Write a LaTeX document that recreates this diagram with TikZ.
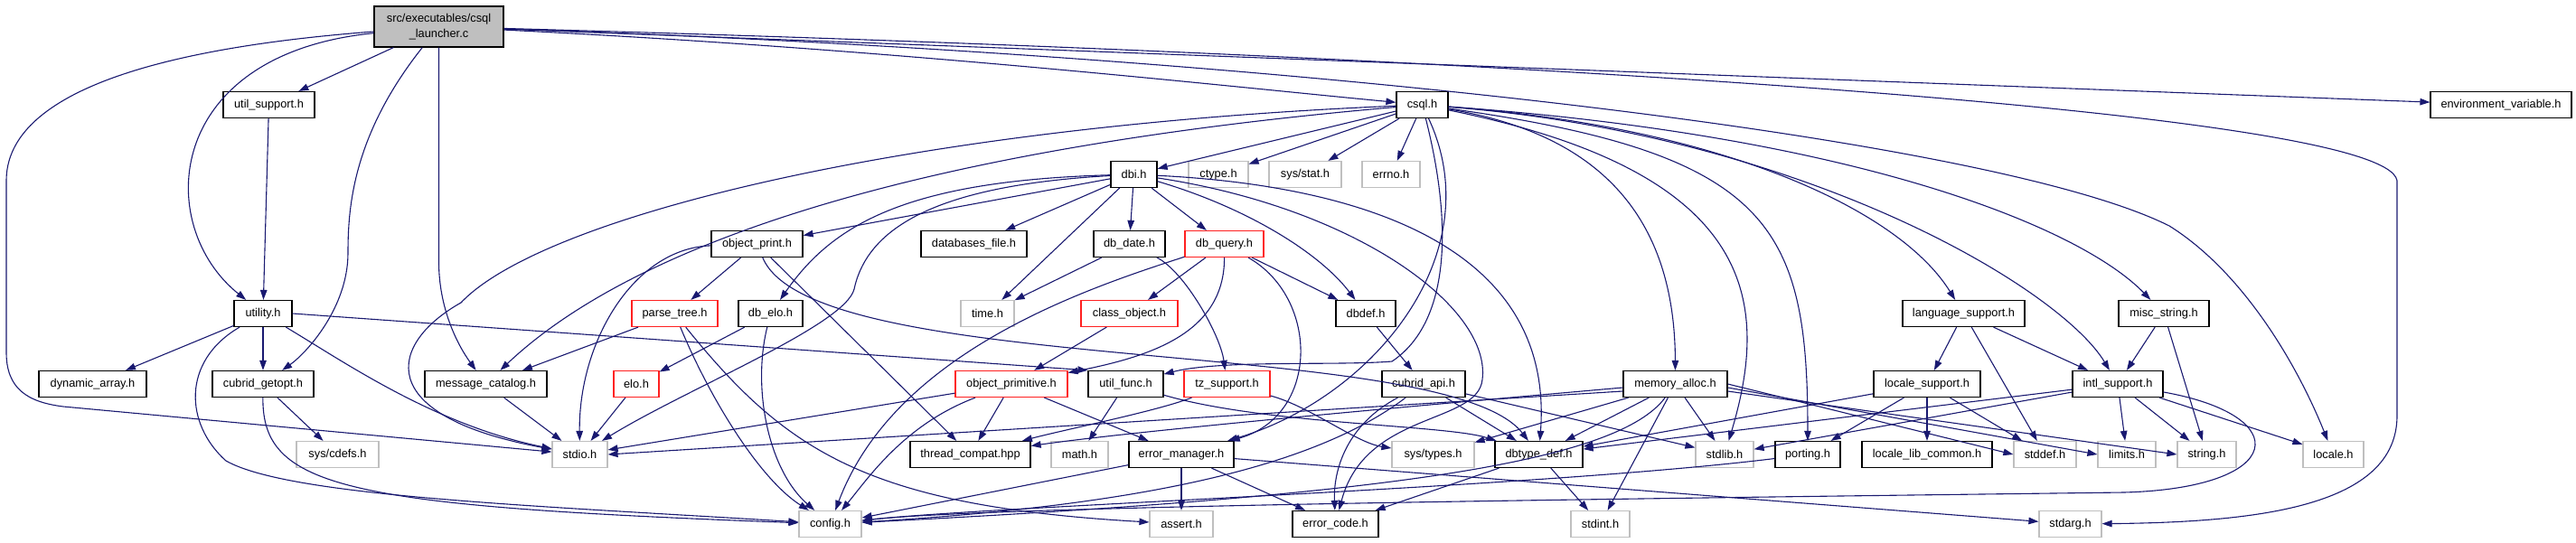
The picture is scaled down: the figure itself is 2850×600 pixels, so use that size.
\documentclass[tikz,border=0pt]{standalone}
\usepackage{fontspec}
\setmainfont{Liberation Sans}
\usepackage{tikz}
\usetikzlibrary{arrows.meta}
\definecolor{depblue}{HTML}{191970}
\definecolor{sysgray}{HTML}{BFBFBF}
\definecolor{truncred}{HTML}{FF2020}
\tikzset{
  hdr/.style={draw=black,line width=1.2pt,minimum height=29,inner sep=0pt,
              font=\fontsize{12.8}{15}\selectfont},
  syshdr/.style={hdr,draw=sysgray},
  cuthdr/.style={hdr,draw=truncred},
  srcfile/.style={hdr,fill=sysgray,minimum height=45,align=center,
                  font=\fontsize{12.8}{16.5}\selectfont},
  dep/.style={-{Triangle[length=11pt,width=7.5pt]},depblue,line width=1.1pt},
}

\begin{document}
\begin{tikzpicture}[x=1pt,y=-1pt]
  \useasboundingbox (0,0) rectangle (2850,600);

  %% ── Source file ──────────────────────────────────────────────────────────
  \node[srcfile,minimum width=143] (root) at (485.5,29.5) {src/executables/csql\\\_launcher.c};

  %% ── Rank 1 ───────────────────────────────────────────────────────────────
  \node[hdr,minimum width=101] (utilsup) at (297.5,116) {util\_support.h};
  \node[hdr,minimum width=57]  (csql)    at (1573.5,116) {csql.h};
  \node[hdr,minimum width=156] (envvar)  at (2767,116) {environment\_variable.h};

  %% ── Rank 2 ───────────────────────────────────────────────────────────────
  \node[hdr,minimum width=51]    (dbi)     at (1254.5,193) {dbi.h};
  \node[syshdr,minimum width=66] (ctype)   at (1348,193) {ctype.h};
  \node[syshdr,minimum width=80] (sysstat) at (1444,193) {sys/stat.h};
  \node[syshdr,minimum width=64] (errno)   at (1539,193) {errno.h};

  %% ── Rank 3 ───────────────────────────────────────────────────────────────
  \node[hdr,minimum width=101]   (objprint) at (837.5,270) {object\_print.h};
  \node[hdr,minimum width=117]   (dbfile)   at (1077.5,270) {databases\_file.h};
  \node[hdr,minimum width=79]    (dbdate)   at (1249.5,270) {db\_date.h};
  \node[cuthdr,minimum width=87] (dbquery)  at (1354.5,270) {db\_query.h};

  %% ── Rank 4 ───────────────────────────────────────────────────────────────
  \node[hdr,minimum width=64]     (utility)   at (291,347) {utility.h};
  \node[cuthdr,minimum width=95]  (parsetree) at (746.5,347) {parse\_tree.h};
  \node[hdr,minimum width=71]     (dbelo)     at (852.5,347) {db\_elo.h};
  \node[syshdr,minimum width=59]  (timeh)     at (1092.5,347) {time.h};
  \node[cuthdr,minimum width=107] (classobj)  at (1249.5,347) {class\_object.h};
  \node[hdr,minimum width=66]     (dbdef)     at (1511,347) {dbdef.h};
  \node[hdr,minimum width=135]    (langsup)   at (2172.5,347) {language\_support.h};
  \node[hdr,minimum width=100]    (miscstr)   at (2394,347) {misc\_string.h};

  %% ── Rank 5 ───────────────────────────────────────────────────────────────
  \node[hdr,minimum width=119]    (dynarr)   at (102.5,425) {dynamic\_array.h};
  \node[hdr,minimum width=112]    (getopt)   at (291,425) {cubrid\_getopt.h};
  \node[hdr,minimum width=135]    (msgcat)   at (537.5,425) {message\_catalog.h};
  \node[cuthdr,minimum width=50]  (elo)      at (704,425) {elo.h};
  \node[cuthdr,minimum width=124] (objprim)  at (1119,425) {object\_primitive.h};
  \node[hdr,minimum width=83]     (utilfunc) at (1245.5,425) {util\_func.h};
  \node[cuthdr,minimum width=95]  (tzsup)    at (1357.5,425) {tz\_support.h};
  \node[hdr,minimum width=92]     (cubapi)   at (1575,425) {cubrid\_api.h};
  \node[hdr,minimum width=115]    (memalloc) at (1853.5,425) {memory\_alloc.h};
  \node[hdr,minimum width=118]    (locsup)   at (2132,425) {locale\_support.h};
  \node[hdr,minimum width=100]    (intlsup)  at (2343,425) {intl\_support.h};

  %% ── Rank 6 ───────────────────────────────────────────────────────────────
  \node[syshdr,minimum width=91] (cdefs)    at (373.5,503) {sys/cdefs.h};
  \node[syshdr,minimum width=61] (stdio)    at (641.5,503) {stdio.h};
  \node[hdr,minimum width=133]   (threadc)  at (1073.5,503) {thread\_compat.hpp};
  \node[syshdr,minimum width=63] (mathh)    at (1194.5,503) {math.h};
  \node[hdr,minimum width=116]   (errmgr)   at (1307,503) {error\_manager.h};
  \node[syshdr,minimum width=91] (systypes) at (1585.5,503) {sys/types.h};
  \node[hdr,minimum width=97]    (dbtype)   at (1702.5,503) {dbtype\_def.h};
  \node[syshdr,minimum width=64] (stdlib)   at (1908,503) {stdlib.h};
  \node[hdr,minimum width=72]    (porting)  at (2000,503) {porting.h};
  \node[hdr,minimum width=144]   (loclib)   at (2132,503) {locale\_lib\_common.h};
  \node[syshdr,minimum width=69] (stddef)   at (2262.5,503) {stddef.h};
  \node[syshdr,minimum width=64] (limits)   at (2353,503) {limits.h};
  \node[syshdr,minimum width=65] (stringh)  at (2441.5,503) {string.h};
  \node[syshdr,minimum width=67] (localeh)  at (2581.5,503) {locale.h};

  %% ── Rank 7 ───────────────────────────────────────────────────────────────
  \node[syshdr,minimum width=69] (config)  at (918.5,580) {config.h};
  \node[syshdr,minimum width=70] (assert)  at (1307,580) {assert.h};
  \node[hdr,minimum width=95]    (errcode) at (1477.5,580) {error\_code.h};
  \node[syshdr,minimum width=65] (stdint)  at (1770.5,580) {stdint.h};
  \node[syshdr,minimum width=69] (stdarg)  at (2290.5,580) {stdarg.h};

  %% ── Includes of the source file ──────────────────────────────────────────
  \draw[dep] (root) .. controls (150,55) and (7,110) .. (7,200) -- (7,390)
             .. controls (7,430) and (30,445) .. (70,450) -- (stdio);
  \draw[dep] (root) .. controls (180,60) and (170,250) .. (utility);
  \draw[dep] (root) -- (utilsup);
  \draw[dep] (root) .. controls (390,150) and (385,230) .. (385,280)
             .. controls (385,340) and (340,390) .. (getopt);
  \draw[dep] (root.south) -- (485.5,290) .. controls (485.5,340) and (505,380) .. (msgcat);
  \draw[dep] (root) .. controls (1000,55) and (1350,95) .. (csql);
  \draw[dep] (root) -- (envvar);
  \draw[dep] (root) .. controls (1600,60) and (2640,120) .. (2652,200) -- (2652,460)
             .. controls (2652,560) and (2500,578) .. (stdarg);
  \draw[dep] (root) .. controls (1400,60) and (2200,150) .. (2400,250)
             .. controls (2480,300) and (2540,400) .. (localeh);

  %% ── utility / getopt ─────────────────────────────────────────────────────
  \draw[dep] (utilsup) -- (utility);
  \draw[dep] (utility) -- (dynarr);
  \draw[dep] (utility) -- (getopt);
  \draw[dep] (utility) .. controls (380,400) and (480,470) .. (stdio);
  \draw[dep] (utility) .. controls (200,400) and (205,470) .. (250,510)
             .. controls (320,550) and (600,560) .. (config);
  \draw[dep] (utility.east) -- (utilfunc.north west);
  \draw[dep] (getopt) -- (cdefs);
  \draw[dep] (getopt) .. controls (290,540) and (380,560) .. (config);

  %% ── csql.h ───────────────────────────────────────────────────────────────
  \draw[dep] (csql) -- (dbi);
  \draw[dep] (csql) -- (ctype);
  \draw[dep] (csql) -- (sysstat);
  \draw[dep] (csql) -- (errno);
  \draw[dep] (csql) .. controls (1000,140) and (600,240) .. (510,335)
             .. controls (430,380) and (410,460) .. (stdio);
  \draw[dep] (csql) .. controls (950,170) and (680,290) .. (msgcat);
  \draw[dep] (csql) .. controls (1610,260) and (1600,360) .. (1540,400)
             .. controls (1480,405) and (1350,398) .. (utilfunc);
  \draw[dep] (csql) .. controls (1650,280) and (1520,440) .. (errmgr);
  \draw[dep] (csql) .. controls (1780,150) and (1853,250) .. (memalloc);
  \draw[dep] (csql) .. controls (1900,140) and (2100,230) .. (langsup);
  \draw[dep] (csql) .. controls (2000,150) and (2280,320) .. (intlsup);
  \draw[dep] (csql) .. controls (2050,150) and (2300,250) .. (miscstr);
  \draw[dep] (csql) .. controls (1960,170) and (2000,250) .. (porting);
  \draw[dep] (csql) .. controls (1940,190) and (1960,330) .. (stdlib);

  %% ── dbi.h ────────────────────────────────────────────────────────────────
  \draw[dep] (dbi) -- (objprint);
  \draw[dep] (dbi) -- (dbfile);
  \draw[dep] (dbi) -- (dbdate);
  \draw[dep] (dbi) -- (dbquery);
  \draw[dep] (dbi) -- (timeh);
  \draw[dep] (dbi) .. controls (1380,230) and (1460,280) .. (dbdef);
  \draw[dep] (dbi) .. controls (1000,200) and (920,250) .. (dbelo);
  \draw[dep] (dbi) .. controls (1040,205) and (960,250) .. (945,320)
             .. controls (935,360) and (760,430) .. (stdio);
  \draw[dep] (dbi) .. controls (1500,205) and (1720,270) .. (dbtype);
  \draw[dep] (dbi) .. controls (1500,230) and (1650,340) .. (1640,420)
             .. controls (1635,470) and (1510,455) .. (errcode);

  %% ── Rank 3 / 4 includes ──────────────────────────────────────────────────
  \draw[dep] (dbdate) -- (timeh);
  \draw[dep] (dbdate) .. controls (1310,300) and (1350,370) .. (tzsup);
  \draw[dep] (dbquery) -- (classobj);
  \draw[dep] (dbquery) .. controls (1355,370) and (1270,395) .. (objprim);
  \draw[dep] (dbquery) .. controls (1200,320) and (990,390) .. (config);
  \draw[dep] (dbquery) .. controls (1460,330) and (1460,460) .. (errmgr);
  \draw[dep] (dbquery) -- (dbdef);
  \draw[dep] (dbdef) -- (cubapi);
  \draw[dep] (classobj) -- (objprim);
  \draw[dep] (objprint) -- (parsetree);
  \draw[dep] (objprint) .. controls (700,275) and (640,380) .. (stdio);
  \draw[dep] (objprint) -- (threadc);
  \draw[dep] (objprint) .. controls (900,420) and (1600,370) .. (dbtype);
  \draw[dep] (parsetree) -- (msgcat);
  \draw[dep] (parsetree) .. controls (785,440) and (840,530) .. (config);
  \draw[dep] (parsetree) .. controls (870,500) and (960,560) .. (assert);
  \draw[dep] (dbelo) -- (elo);
  \draw[dep] (dbelo) .. controls (832,430) and (850,520) .. (config);
  \draw[dep] (elo) -- (stdio);
  \draw[dep] (msgcat) -- (stdio);

  %% ── Rank 5 includes ──────────────────────────────────────────────────────
  \draw[dep] (objprim) -- (threadc);
  \draw[dep] (objprim) -- (errmgr);
  \draw[dep] (objprim) -- (stdio);
  \draw[dep] (objprim) .. controls (1000,470) and (960,530) .. (config);
  \draw[dep] (utilfunc) -- (mathh);
  \draw[dep] (utilfunc) .. controls (1400,470) and (1600,470) .. (dbtype);
  \draw[dep] (tzsup) .. controls (1280,455) and (1180,475) .. (threadc);
  \draw[dep] (tzsup) .. controls (1450,450) and (1500,490) .. (systypes);
  \draw[dep] (cubapi) -- (dbtype);
  \draw[dep] (cubapi) .. controls (1490,470) and (1475,520) .. (errcode);
  \draw[dep] (cubapi) -- (stdlib);
  \draw[dep] (cubapi) .. controls (1450,520) and (1250,560) .. (config);

  \draw[dep] ([yshift=-4pt]memalloc.west) .. controls (1500,455) and (1250,478) .. (threadc);
  \draw[dep] ([yshift=-8pt]memalloc.west) -- (stdio.east);
  \draw[dep] (memalloc) -- (systypes);
  \draw[dep] (memalloc) -- (dbtype);
  \draw[dep] (memalloc) -- (stdlib);
  \draw[dep] (memalloc) -- (stdint);
  \draw[dep] (memalloc) .. controls (1790,510) and (1550,548) .. (config);
  \draw[dep] (memalloc.east) -- (stddef.west);
  \draw[dep] ([yshift=-4pt]memalloc.east) -- (limits.west);
  \draw[dep] ([yshift=-8pt]memalloc.east) -- (stringh.west);

  \draw[dep] (langsup) -- (locsup);
  \draw[dep] (langsup) -- (stddef);
  \draw[dep] (langsup) -- (intlsup);
  \draw[dep] (miscstr) -- (intlsup);
  \draw[dep] (miscstr) -- (stringh);
  \draw[dep] (locsup) -- (porting);
  \draw[dep] (locsup) -- (loclib);
  \draw[dep] (locsup) -- (stddef);
  \draw[dep] (locsup) -- (dbtype);
  \draw[dep] (intlsup) -- (stdlib);
  \draw[dep] (intlsup) -- (dbtype);
  \draw[dep] (intlsup) -- (limits);
  \draw[dep] (intlsup) -- (stringh);
  \draw[dep] (intlsup) -- (localeh);
  \draw[dep] (intlsup) .. controls (2540,460) and (2530,540) .. (2350,545)
             .. controls (1800,552) and (1100,560) .. (config);

  %% ── Rank 6 includes ──────────────────────────────────────────────────────
  \draw[dep] (errmgr) -- (assert);
  \draw[dep] (errmgr) -- (errcode);
  \draw[dep] (errmgr) -- (config);
  \draw[dep] (errmgr) -- (stdarg);
  \draw[dep] (porting) .. controls (1700,540) and (1100,560) .. (config);
  \draw[dep] (dbtype) -- (errcode);
  \draw[dep] (dbtype) -- (stdint);
\end{tikzpicture}
\end{document}
